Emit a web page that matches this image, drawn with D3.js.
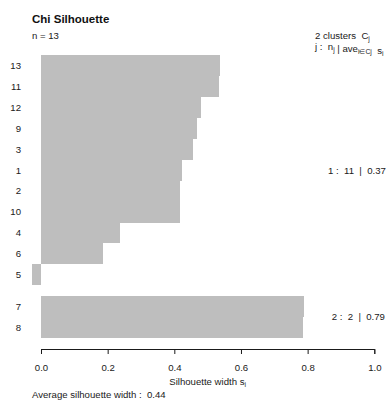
<!DOCTYPE html>
<html>
<head>
<meta charset="utf-8">
<script src="https://cdn.jsdelivr.net/npm/d3@7"></script>
<style>
  body { margin: 0; background: #fff; }
  svg { font-family: "Liberation Sans", Arial, sans-serif; }
</style>
</head>
<body>
<div id="chart"></div>
<script>
// observations in plot order (top to bottom), their cluster and silhouette width
const obsLabels = ["13", "11", "12", "9", "3", "1", "2", "10", "4", "6", "5", "7", "8"];
const obsCluster = [1, 1, 1, 1, 1, 1, 1, 1, 1, 1, 1, 2, 2];
const obsWidth = [0.537, 0.535, 0.48, 0.467, 0.455, 0.422, 0.417, 0.417, 0.237, 0.186, -0.027, 0.79, 0.787];

const clusterIds = [1, 2];
const clusterSizes = [11, 2];
const clusterAvg = ["0.37", "0.79"];
const avgWidth = "0.44";
const xTicks = [0, 0.2, 0.4, 0.6, 0.8, 1.0];

const width = 386, height = 411;
const fs = "9.6px";

const svg = d3.select("#chart")
  .append("svg")
    .attr("width", width)
    .attr("height", height);

// x scale for silhouette width
const x = d3.scaleLinear()
  .domain([0, 1])
  .range([41, 374.3]);

// bar position in units: one unit per bar, half a unit gap between clusters
const pos = obsLabels.map((d, i) => i + (obsCluster[i] - 1) * 0.5);
const y = d3.scaleLinear()
  .domain([0, obsLabels.length + 0.5])
  .range([55, 337.7]);

const rows = obsLabels.map((d, i) => ({label: d, cluster: obsCluster[i], s: obsWidth[i], p: pos[i]}));

// bars
svg.selectAll("rect.bar")
  .data(rows)
  .join("rect")
    .attr("class", "bar")
    .attr("x", d => x(Math.min(0, d.s)))
    .attr("y", d => y(d.p))
    .attr("width", d => Math.abs(x(d.s) - x(0)))
    .attr("height", d => y(d.p + 1) - y(d.p))
    .attr("fill", "#bebebe")
    .attr("shape-rendering", "crispEdges");

// row labels
svg.selectAll("text.rowlab")
  .data(rows)
  .join("text")
    .attr("class", "rowlab")
    .attr("x", 21)
    .attr("y", d => y(d.p + 0.5))
    .attr("dy", "0.35em")
    .attr("text-anchor", "end")
    .style("font-size", fs)
    .style("fill", "#1a1a1a")
    .text(d => d.label);

// x axis
svg.append("g")
  .attr("transform", "translate(0,349)")
  .call(d3.axisBottom(x)
    .tickValues(xTicks)
    .tickFormat(d3.format(".1f"))
    .tickSize(5)
    .tickSizeOuter(5)
    .tickPadding(10))
  .call(g => g.selectAll("text").style("font-size", fs).style("fill", "#1a1a1a").attr("font-family", null))
  .call(g => g.selectAll("path, line").attr("stroke", "#1a1a1a"));

// cluster statistics on the right (R style: adj = 0.8 around x = 1)
clusterIds.forEach((c, j) => {
  const ps = rows.filter(r => r.cluster === c).map(r => r.p + 0.5);
  const t = svg.append("text")
    .attr("y", y(d3.mean(ps)))
    .attr("dy", "0.35em")
    .style("font-size", fs)
    .style("fill", "#1a1a1a")
    .attr("xml:space", "preserve")
    .text(`${c} :  ${clusterSizes[j]}  |  ${clusterAvg[j]}`);
  const w = t.node().getComputedTextLength();
  t.attr("x", x(1) - 0.8 * w);
});

// title and headers
svg.append("text")
  .attr("x", 32).attr("y", 23)
  .style("font-size", "11.5px")
  .style("font-weight", "bold")
  .style("fill", "#111")
  .text("Chi Silhouette");

svg.append("text")
  .attr("x", 32).attr("y", 38.5)
  .style("font-size", fs)
  .style("fill", "#1a1a1a")
  .text("n = " + obsLabels.length);

function sub(t, main, s) {
  t.append("tspan").text(main);
  t.append("tspan").attr("dy", 2).style("font-size", "6.8px").text(s);
  t.append("tspan").attr("dy", -2).text("");
}

const h1 = svg.append("text")
  .attr("x", 315).attr("y", 38.5)
  .attr("xml:space", "preserve")
  .style("font-size", fs).style("fill", "#1a1a1a");
sub(h1, clusterIds.length + " clusters  C", "j");

const h2 = svg.append("text")
  .attr("x", 315).attr("y", 49.5)
  .attr("xml:space", "preserve")
  .style("font-size", fs).style("fill", "#1a1a1a");
sub(h2, "j :  n", "j");
sub(h2, " | ave", "i\u2208Cj");
sub(h2, "  s", "i");

// x axis title
const xt = svg.append("text")
  .attr("x", x(0.5)).attr("y", 385)
  .attr("text-anchor", "middle")
  .style("font-size", fs).style("fill", "#1a1a1a");
sub(xt, "Silhouette width s", "i");

svg.append("text")
  .attr("x", 32).attr("y", 397.5)
  .attr("xml:space", "preserve")
  .style("font-size", fs).style("fill", "#1a1a1a")
  .text("Average silhouette width :  " + avgWidth);
</script>
</body>
</html>
